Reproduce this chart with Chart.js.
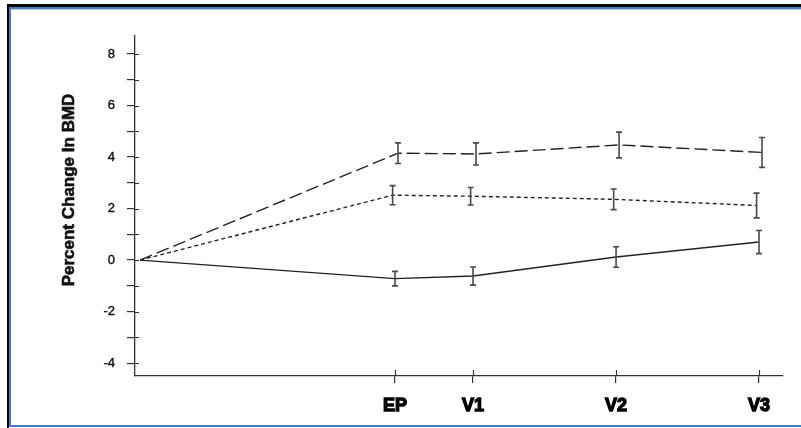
<!DOCTYPE html>
<html>
<head>
<meta charset="utf-8">
<script src="https://cdn.jsdelivr.net/npm/chart.js@4"></script>
<style>
  html, body { margin: 0; background: #fff; overflow: hidden; }
  #wrap { position: relative; width: 801px; height: 428px; overflow: hidden; background: #fff; }
  #bmdChart { position: absolute; left: 0; top: 0; }
  .edge { position: absolute; }
</style>
</head>
<body>
<div id="wrap">
  <canvas id="bmdChart" width="801" height="428"></canvas>
  <!-- frame lines of the pasted picture -->
  <div class="edge" style="left:7px;top:4px;width:794px;height:3px;background:#000"></div>
  <div class="edge" style="left:7px;top:4px;width:2px;height:424px;background:#000"></div>
  <div class="edge" style="left:9px;top:7px;width:792px;height:2px;background:#4a7ebb"></div>
  <div class="edge" style="left:11px;top:9px;width:790px;height:1px;background:#b8cde8"></div>
  <div class="edge" style="left:9px;top:7px;width:2px;height:420px;background:#4a7ebb"></div>
  <div class="edge" style="left:9px;top:425px;width:792px;height:2px;background:#4a7ebb"></div>
</div>
<script>
// Data
const visitNames = ["Baseline", "EP", "V1", "V2", "V3"];
const visitX = [0, 21.25, 27.75, 39.67, 51.58];
const xTickLabels = ["EP", "V1", "V2", "V3"];
const yTickValues = [-4, -3, -2, -1, 0, 1, 2, 3, 4, 5, 6, 7, 8];

// long dash group
const groupA = [0, 4.15, 4.12, 4.47, 4.18];
const groupAErr = [0, 0.4, 0.43, 0.5, 0.58];
const groupAShift = 0.25;
// short dash group
const groupB = [0, 2.52, 2.48, 2.36, 2.12];
const groupBErr = [0, 0.37, 0.34, 0.4, 0.48];
const groupBShift = -0.2;
// solid group
const groupC = [0, -0.72, -0.62, 0.12, 0.7];
const groupCErr = [0, 0.28, 0.35, 0.4, 0.45];
const groupCShift = 0;

function points(values, shift) {
    return values.map((v, i) => ({ x: i === 0 ? visitX[i] : visitX[i] + shift, y: v }));
}

// error bars + tick halves + y title
const extras = {
    id: "extras",
    afterDatasetsDraw(chart) {
        const ctx = chart.ctx;
        const yScale = chart.scales.y;
        ctx.save();
        ctx.strokeStyle = "#4a4a4a";
        ctx.lineWidth = 1.6;
        chart.data.datasets.forEach((ds, d) => {
            const meta = chart.getDatasetMeta(d);
            meta.data.forEach((pt, i) => {
                const e = ds.errors[i];
                if (!e) return;
                const v = ds.data[i].y;
                const top = yScale.getPixelForValue(v + e);
                const bot = yScale.getPixelForValue(v - e);
                ctx.beginPath();
                ctx.moveTo(pt.x, top);
                ctx.lineTo(pt.x, bot);
                ctx.moveTo(pt.x - 3, top);
                ctx.lineTo(pt.x + 3, top);
                ctx.moveTo(pt.x - 3, bot);
                ctx.lineTo(pt.x + 3, bot);
                ctx.stroke();
            });
        });
        ctx.restore();
    },
    afterDraw(chart) {
        const ctx = chart.ctx;
        const area = chart.chartArea;
        const xScale = chart.scales.x;
        const yScale = chart.scales.y;
        ctx.save();
        ctx.strokeStyle = "#333";
        ctx.lineWidth = 1.2;
        ctx.beginPath();
        yTickValues.forEach(v => {
            const y = Math.round(yScale.getPixelForValue(v)) + 0.5;
            ctx.moveTo(area.left, y);
            ctx.lineTo(area.left + 4, y);
        });
        visitX.slice(1).forEach(v => {
            const x = Math.round(xScale.getPixelForValue(v)) + 0.5;
            ctx.moveTo(x, area.bottom);
            ctx.lineTo(x, area.bottom - 6);
        });
        ctx.stroke();

        ctx.translate(74, 190);
        ctx.rotate(-Math.PI / 2);
        ctx.fillStyle = "#111";
        ctx.strokeStyle = "#111";
        ctx.lineWidth = 0.6;
        ctx.font = "bold 17px 'Liberation Sans', Arial, sans-serif";
        ctx.textAlign = "center";
        ctx.textBaseline = "alphabetic";
        ctx.fillText("Percent Change In BMD", 0, 0);
        ctx.strokeText("Percent Change In BMD", 0, 0);
        ctx.restore();
    }
};

const config = {
    type: "line",
    data: {
        datasets: [
            {
                label: "Group A",
                data: points(groupA, groupAShift),
                errors: groupAErr,
                borderColor: "#222",
                borderWidth: 1.4,
                borderDash: [13, 5],
                pointRadius: 0,
                tension: 0
            },
            {
                label: "Group B",
                data: points(groupB, groupBShift),
                errors: groupBErr,
                borderColor: "#222",
                borderWidth: 1.4,
                borderDash: [4, 3],
                pointRadius: 0,
                tension: 0
            },
            {
                label: "Group C",
                data: points(groupC, groupCShift),
                errors: groupCErr,
                borderColor: "#222",
                borderWidth: 1.4,
                pointRadius: 0,
                tension: 0
            }
        ]
    },
    options: {
        responsive: false,
        animation: false,
        layout: { padding: { top: 36, right: 18, left: 0, bottom: 0 } },
        plugins: { legend: { display: false }, tooltip: { enabled: false } },
        scales: {
            x: {
                type: "linear",
                min: -0.417,
                max: 53.58,
                afterFit: scale => { scale.height = 52; },
                afterBuildTicks: scale => {
                    scale.ticks = visitX.slice(1).map(v => ({ value: v }));
                },
                border: { display: true, color: "#333", width: 1.3 },
                grid: { display: true, drawOnChartArea: false, drawTicks: true, tickLength: 7, color: "#333", lineWidth: 1.2 },
                ticks: {
                    autoSkip: false,
                    maxRotation: 0,
                    padding: 12,
                    color: "#000",
                    textStrokeColor: "#000",
                    textStrokeWidth: 1.3,
                    font: { family: "'Liberation Sans', Arial, sans-serif", size: 18, weight: "bold" },
                    callback: value => xTickLabels[visitX.slice(1).indexOf(value)]
                }
            },
            y: {
                min: -4.5,
                max: 8.7,
                afterFit: scale => { scale.width = 135; },
                afterBuildTicks: scale => {
                    scale.ticks = yTickValues.map(v => ({ value: v }));
                },
                border: { display: true, color: "#333", width: 1.3 },
                grid: { display: true, drawOnChartArea: false, drawTicks: true, tickLength: 8, color: "#333", lineWidth: 1.2 },
                ticks: {
                    autoSkip: false,
                    padding: 12,
                    color: "#111",
                    textStrokeColor: "#111",
                    textStrokeWidth: 0.4,
                    font: { family: "'Liberation Sans', Arial, sans-serif", size: 13 },
                    callback: value => (value % 2 === 0 ? String(value) : "")
                }
            }
        }
    },
    plugins: [extras]
};

const bmdChart = new Chart(document.getElementById("bmdChart"), config);
</script>
</body>
</html>
